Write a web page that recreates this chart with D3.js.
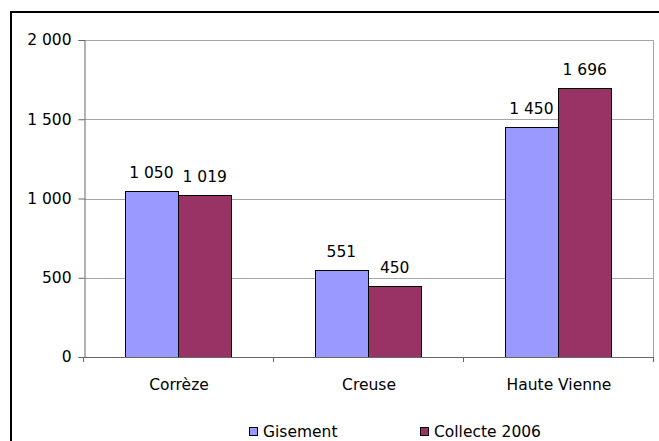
<!DOCTYPE html>
<html>
<head>
<meta charset="utf-8">
<script src="https://cdn.jsdelivr.net/npm/d3@7"></script>
<style>
  body { margin: 0; background: #fff; }
  svg { display: block; font-family: "DejaVu Sans", Verdana, sans-serif; }
</style>
</head>
<body>
<svg id="chart"></svg>
<script>
// donnees
const categories = ["Corrèze", "Creuse", "Haute Vienne"];
const seriesNames = ["Gisement", "Collecte 2006"];
const gisement = [1050, 551, 1450];
const collecte = [1019, 450, 1696];
const yTicks = [0, 500, 1000, 1500, 2000];
const colors = ["#9999FF", "#993366"];

const w = 659, h = 441;
const plotLeft = 84, plotRight = 654, plotTop = 40, plotBottom = 357;
const fontSize = 15.5;

const svg = d3.select("#chart").attr("width", w).attr("height", h);

// cadre exterieur
svg.append("rect")
  .attr("x", 11).attr("y", 12)
  .attr("width", w + 10).attr("height", h + 10)
  .attr("fill", "none").attr("stroke", "#000").attr("stroke-width", 2);

const fmt = v => d3.format(",")(v).replace(/,/g, " ");

const x0 = d3.scaleBand().domain(categories).range([plotLeft, plotRight]);
const x1 = d3.scaleBand().domain(seriesNames)
  .range([0, x0.bandwidth()]).paddingOuter(0.78).paddingInner(0);
const yScale = d3.scaleLinear().domain([0, 2000]).range([plotBottom, plotTop]);

// quadrillage
svg.append("g").selectAll("line")
  .data(yTicks.filter(d => d > 0))
  .join("line")
  .attr("x1", plotLeft).attr("x2", plotRight)
  .attr("y1", d => Math.round(yScale(d)) + 0.5)
  .attr("y2", d => Math.round(yScale(d)) + 0.5)
  .attr("stroke", "#a6a6a6");

// bord droit de la zone de tracé
svg.append("line")
  .attr("x1", plotRight - 0.5).attr("x2", plotRight - 0.5)
  .attr("y1", plotTop).attr("y2", plotBottom)
  .attr("stroke", "#a6a6a6");

// barres
const rows = categories.map((c, i) => ({ cat: c, values: [gisement[i], collecte[i]] }));
const groups = svg.append("g").selectAll("g")
  .data(rows).join("g")
  .attr("transform", d => `translate(${x0(d.cat) - 1},0)`);

groups.selectAll("rect")
  .data(d => d.values.map((v, j) => ({ name: seriesNames[j], v: v, j: j })))
  .join("rect")
  .attr("x", d => Math.round(x1(d.name)) + 0.5)
  .attr("y", d => Math.round(yScale(d.v)) + 0.5)
  .attr("width", Math.round(x1.bandwidth()))
  .attr("height", d => plotBottom - Math.round(yScale(d.v)))
  .attr("fill", d => colors[d.j])
  .attr("stroke", "#000").attr("stroke-width", 1);

groups.selectAll("text")
  .data(d => d.values.map((v, j) => ({ name: seriesNames[j], v: v })))
  .join("text")
  .attr("x", d => x1(d.name) + x1.bandwidth() / 2)
  .attr("y", d => yScale(d.v) - 13)
  .attr("text-anchor", "middle")
  .attr("font-size", fontSize)
  .attr("fill", "#000")
  .text(d => fmt(d.v));

// axe Y
const yAxis = d3.axisLeft(yScale).tickValues(yTicks).tickSize(6).tickPadding(7).tickFormat(fmt);
const gy = svg.append("g").attr("transform", `translate(${plotLeft + 0.5},0)`).call(yAxis);
gy.selectAll("text").attr("font-size", fontSize).attr("font-family", "DejaVu Sans, Verdana, sans-serif").attr("fill", "#000");
gy.selectAll("line").attr("stroke", "#666");
gy.select(".domain").attr("stroke", "#666");

// axe X
const xAxis = d3.axisBottom(x0).tickSize(0).tickPadding(21);
const gx = svg.append("g").attr("transform", `translate(0,${plotBottom + 0.5})`).call(xAxis);
gx.select(".domain").attr("stroke", "#666").attr("d", `M${plotLeft},0H${plotRight}`);
gx.selectAll("text").attr("font-size", fontSize).attr("font-family", "DejaVu Sans, Verdana, sans-serif").attr("fill", "#000");

// petites graduations entre categories
const bounds = categories.map(c => x0(c)).concat([plotRight]);
svg.append("g").selectAll("line")
  .data(bounds).join("line")
  .attr("x1", d => Math.round(d) - 0.5).attr("x2", d => Math.round(d) - 0.5)
  .attr("y1", plotBottom).attr("y2", plotBottom + 5)
  .attr("stroke", "#666");

// legende
const legendX = [249, 420];
const leg = svg.append("g").selectAll("g")
  .data(seriesNames).join("g")
  .attr("transform", (d, i) => `translate(${legendX[i]},427)`);
leg.append("rect")
  .attr("x", 0.5).attr("y", 0.5).attr("width", 8).attr("height", 8)
  .attr("fill", (d, i) => colors[i]).attr("stroke", "#000");
leg.append("text")
  .attr("x", 14).attr("y", 10)
  .attr("font-size", fontSize)
  .text(d => d);
</script>
</body>
</html>
